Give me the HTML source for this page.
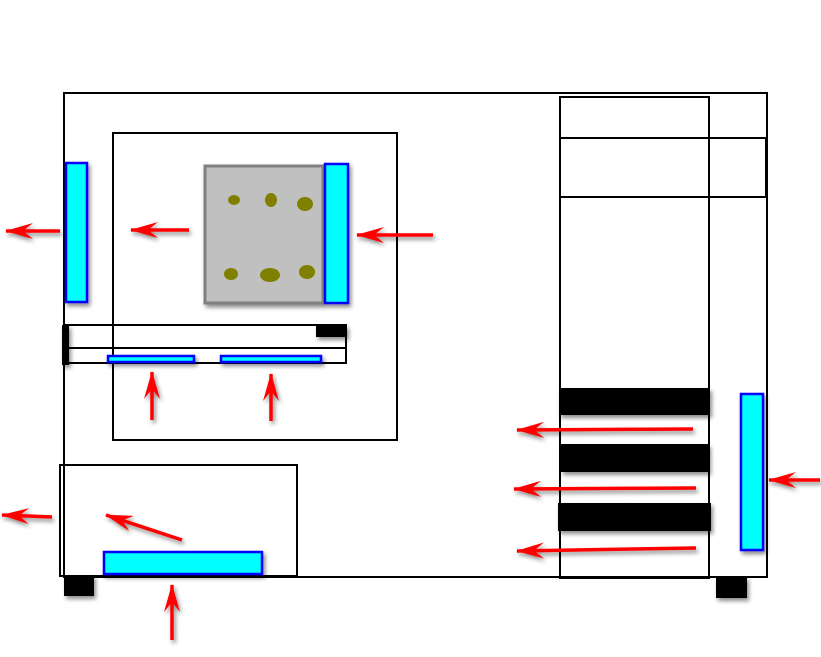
<!DOCTYPE html>
<html><head><style>html,body{margin:0;padding:0;background:#fff}</style></head><body>
<svg width="821" height="652" viewBox="0 0 821 652" xmlns="http://www.w3.org/2000/svg">
<defs>
<filter id="sh" x="-20%" y="-20%" width="150%" height="150%"><feDropShadow dx="2" dy="3" stdDeviation="2" flood-color="#000" flood-opacity="0.45"/></filter>
<marker id="ah" viewBox="0 0 28 16" refX="27" refY="8" markerWidth="28" markerHeight="16" markerUnits="userSpaceOnUse" orient="auto">
<path d="M28,8 L0,0 L10,8 L0,16 Z" fill="#f00"/></marker>
</defs>
<g fill="none" stroke="#000" stroke-width="2">
<rect x="64" y="93" width="703" height="484"/>
<rect x="113" y="133" width="284" height="307"/>
<rect x="560" y="97" width="149" height="481"/>
<rect x="560" y="138" width="206" height="59"/>
<rect x="60" y="465" width="237" height="111"/>
<rect x="64" y="325" width="282" height="23"/>
<rect x="64" y="348" width="282" height="15"/>
</g>
<g filter="url(#sh)">
<rect x="62" y="325" width="7" height="40" fill="#000"/>
<rect x="316" y="325" width="31" height="12" fill="#000"/>
<rect x="559" y="388" width="151" height="27" fill="#000"/>
<rect x="561" y="444" width="148" height="28" fill="#000"/>
<rect x="558" y="503" width="153" height="28" fill="#000"/>
<rect x="64" y="575" width="30" height="21" fill="#000"/>
<rect x="716" y="577" width="31" height="21" fill="#000"/>
<rect x="205" y="166" width="118" height="137" fill="#c0c0c0" stroke="#808080" stroke-width="3"/>
<g fill="#808000">
<ellipse cx="234" cy="200" rx="6" ry="5"/><ellipse cx="271" cy="200" rx="6" ry="7"/><ellipse cx="305" cy="204" rx="8" ry="7"/>
<ellipse cx="231" cy="274" rx="7" ry="6"/><ellipse cx="270" cy="275" rx="10" ry="7"/><ellipse cx="307" cy="272" rx="8" ry="7"/>
</g>
<g fill="#0ff" stroke="#00f" stroke-width="2.5">
<rect x="66" y="163" width="21" height="139"/>
<rect x="325" y="164" width="23" height="139"/>
<rect x="741" y="394" width="22" height="156"/>
<rect x="104" y="552" width="158" height="22"/>
<rect x="108" y="356" width="86" height="6"/>
<rect x="221" y="356" width="100" height="6"/>
</g>
</g>
<g stroke="#f00" stroke-width="3.5" marker-end="url(#ah)" filter="url(#sh)">
<line x1="60" y1="231" x2="6" y2="231"/>
<line x1="189" y1="230" x2="131" y2="230"/>
<line x1="433" y1="235" x2="357" y2="235"/>
<line x1="152" y1="420" x2="152" y2="372"/>
<line x1="271" y1="421" x2="271" y2="374"/>
<line x1="693" y1="429" x2="517" y2="430"/>
<line x1="696" y1="488" x2="514" y2="489"/>
<line x1="696" y1="548" x2="517" y2="551"/>
<line x1="820" y1="480" x2="769" y2="480"/>
<line x1="52" y1="517" x2="2" y2="515"/>
<line x1="182" y1="540" x2="106" y2="515"/>
<line x1="172" y1="640" x2="172" y2="585"/>
</g>
</svg>
</body></html>
